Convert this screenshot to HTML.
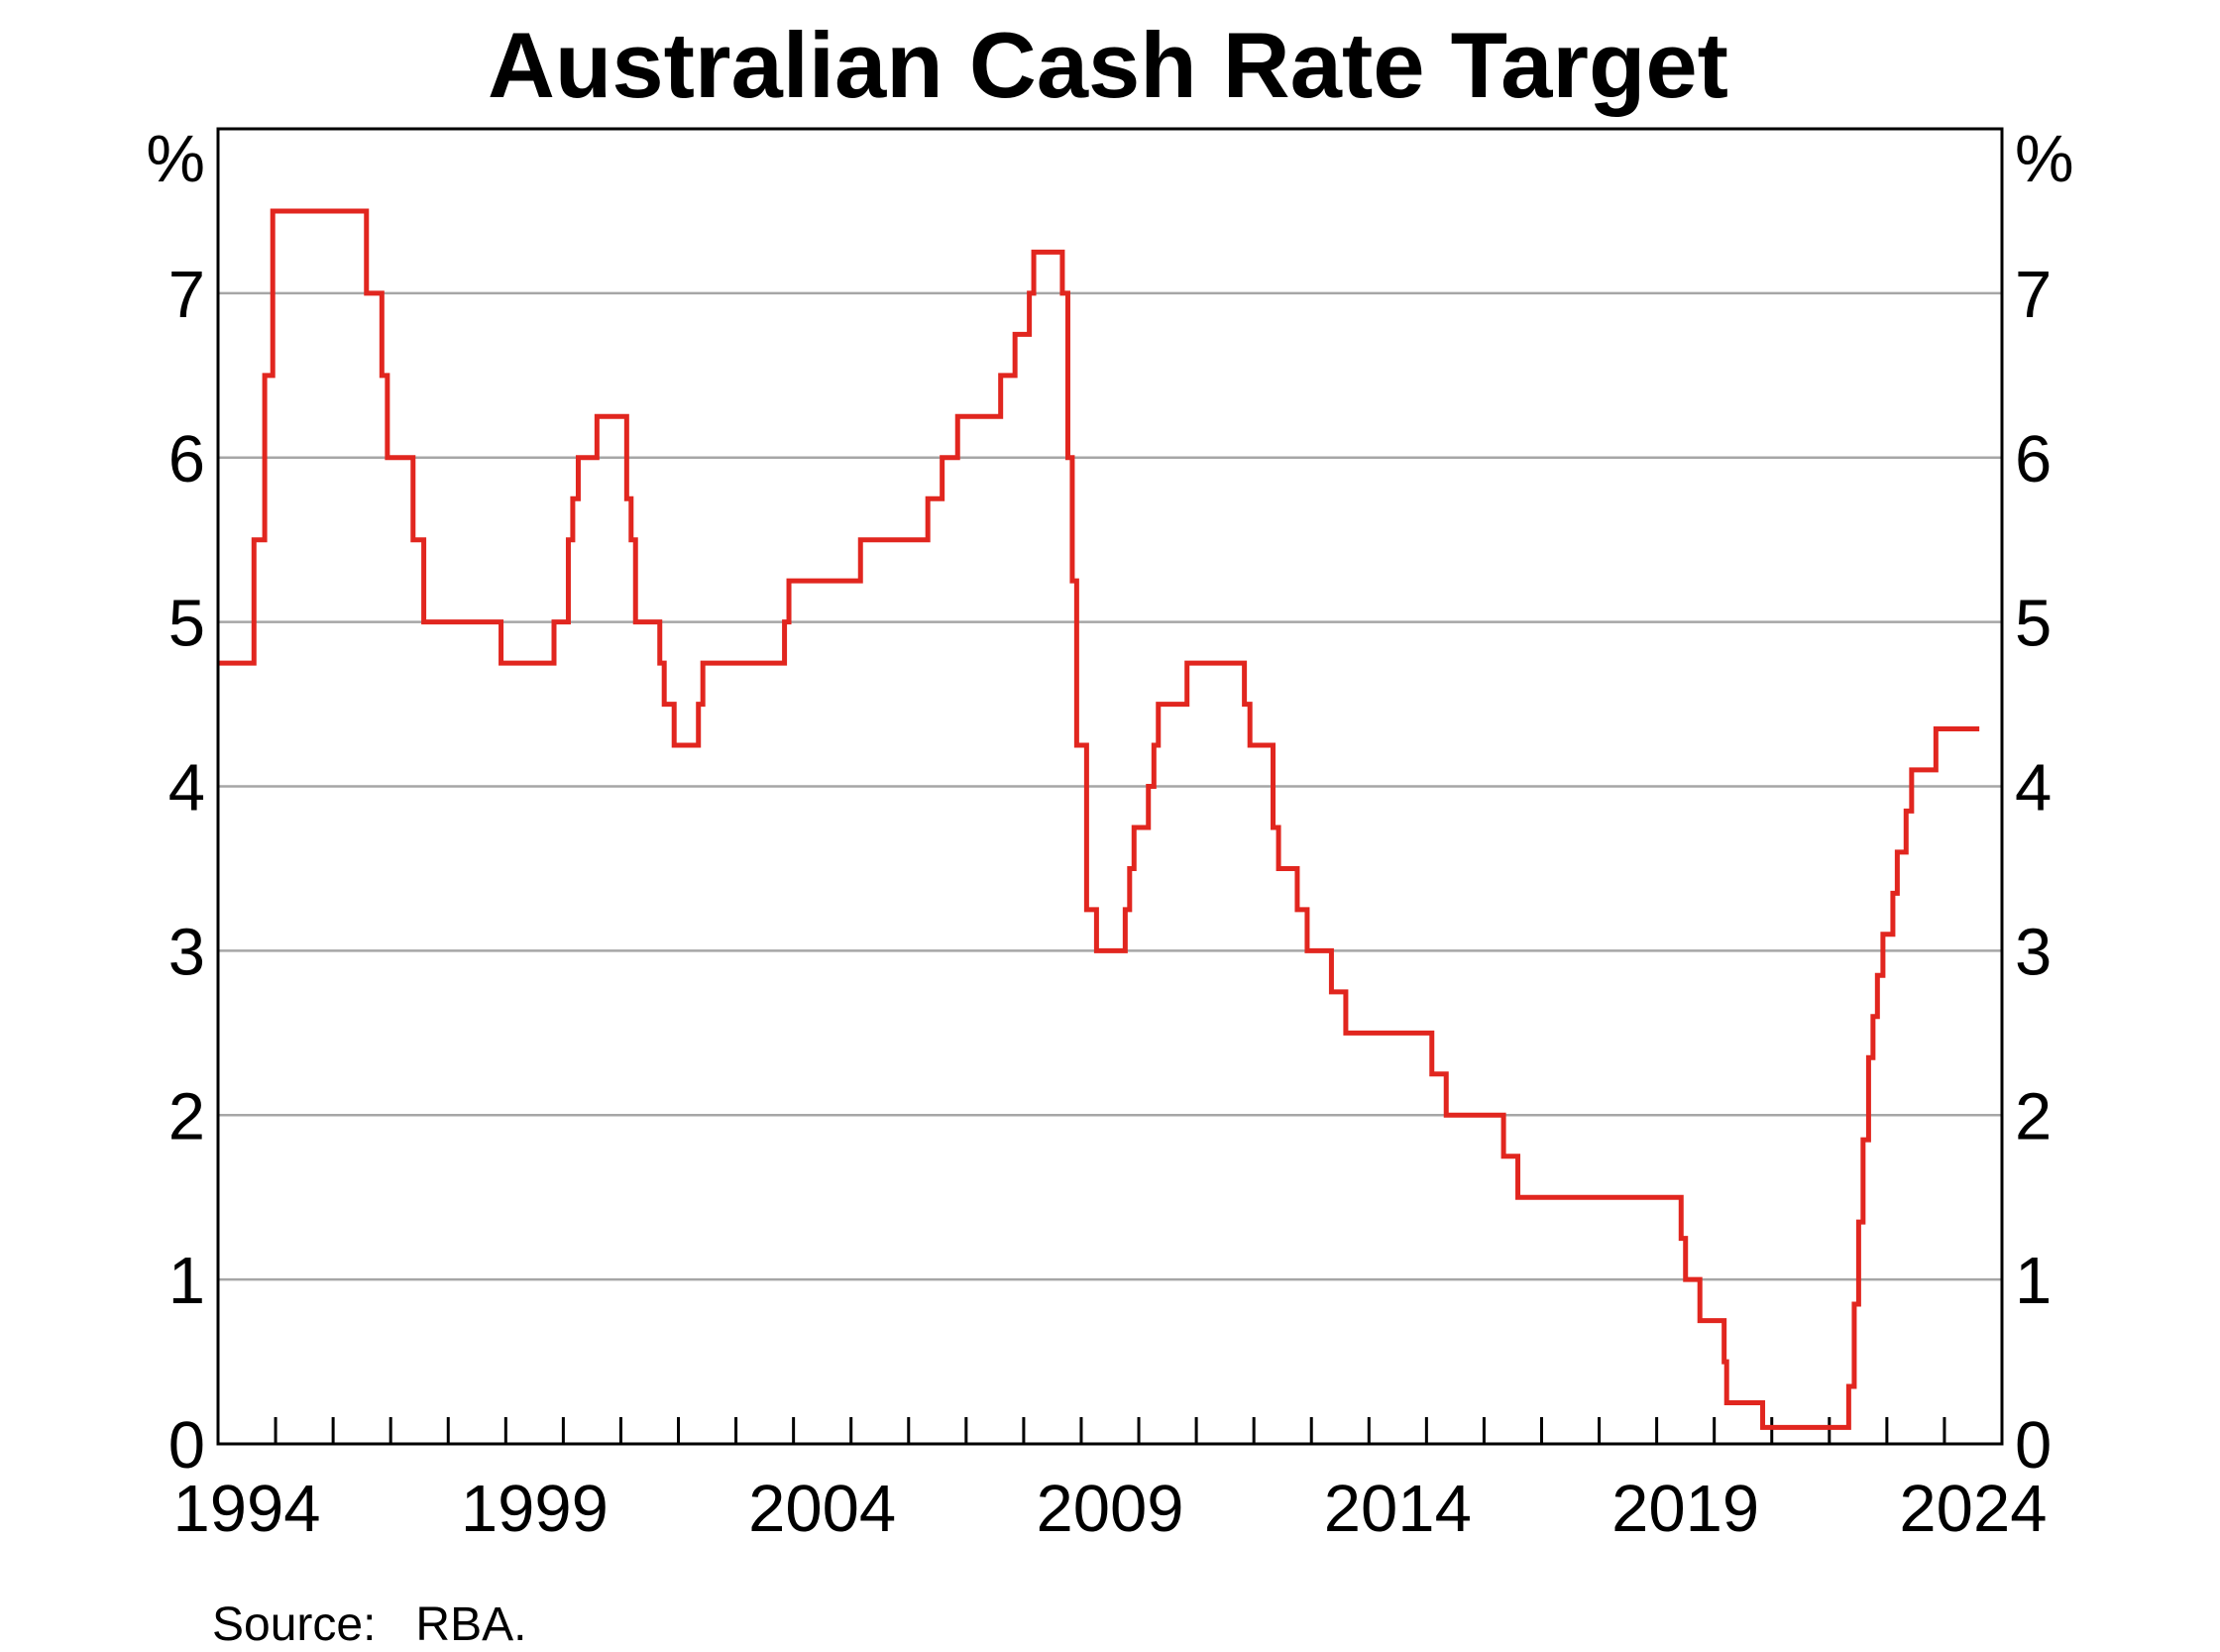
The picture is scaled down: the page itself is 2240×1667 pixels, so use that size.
<!DOCTYPE html>
<html><head><meta charset="utf-8"><style>
html,body{margin:0;padding:0;background:#fff}
svg{display:block;font-family:"Liberation Sans",Arial,sans-serif}
</style></head><body>
<svg id="chart" width="2240" height="1667" viewBox="0 0 2240 1667">
<text x="1118" y="98" font-size="94" font-weight="bold" text-anchor="middle">Australian Cash Rate Target</text>
<g id="grid"></g>
<g id="ticks"></g>
<g id="labels"></g>
<path id="series" fill="none" stroke="#e1261f" stroke-width="5" stroke-linejoin="miter"></path>
<rect x="220" y="130" width="1800" height="1327" fill="none" stroke="#000" stroke-width="3"></rect>
<text x="207" y="183" font-size="67" text-anchor="end">%</text>
<text x="2033" y="183" font-size="67">%</text>
<text x="214" y="1655" font-size="48" style="white-space:pre">Source:   RBA.</text>
</svg>
<script>
const changeDates = ["1994-01-01","1994-08-17","1994-10-24","1994-12-14","1996-07-31","1996-11-06","1996-12-11","1997-05-23","1997-07-30","1998-12-02","1999-11-03","2000-02-02","2000-03-01","2000-04-05","2000-08-02","2001-02-07","2001-03-07","2001-04-04","2001-09-05","2001-10-03","2001-12-05","2002-05-08","2002-06-05","2003-11-05","2003-12-03","2005-03-02","2006-05-03","2006-08-02","2006-11-08","2007-08-08","2007-11-07","2008-02-06","2008-03-05","2008-09-03","2008-10-08","2008-11-05","2008-12-03","2009-02-04","2009-04-08","2009-10-07","2009-11-04","2009-12-02","2010-03-03","2010-04-07","2010-05-05","2010-11-03","2011-11-02","2011-12-07","2012-05-02","2012-06-06","2012-10-03","2012-12-05","2013-05-08","2013-08-07","2015-02-04","2015-05-06","2016-05-04","2016-08-03","2019-06-05","2019-07-03","2019-10-02","2020-03-04","2020-03-20","2020-11-04","2022-05-04","2022-06-08","2022-07-06","2022-08-03","2022-09-07","2022-10-05","2022-11-02","2022-12-07","2023-02-08","2023-03-08","2023-05-03","2023-06-07","2023-11-08"];
const rates = [4.75,5.5,6.5,7.5,7.0,6.5,6.0,5.5,5.0,4.75,5.0,5.5,5.75,6.0,6.25,5.75,5.5,5.0,4.75,4.5,4.25,4.5,4.75,5.0,5.25,5.5,5.75,6.0,6.25,6.5,6.75,7.0,7.25,7.0,6.0,5.25,4.25,3.25,3.0,3.25,3.5,3.75,4.0,4.25,4.5,4.75,4.5,4.25,3.75,3.5,3.25,3.0,2.75,2.5,2.25,2.0,1.75,1.5,1.25,1.0,0.75,0.5,0.25,0.1,0.35,0.85,1.35,1.85,2.35,2.6,2.85,3.1,3.35,3.6,3.85,4.1,4.35];
const endDate = "2024-08-10";
const yTicks = [0,1,2,3,4,5,6,7];
const xLabelYears = [1994,1999,2004,2009,2014,2019,2024];

const L=220,R=2020,T=130,B=1457, X0=1994, X1=2025, Y0=0, Y1=8;
const NS="http://www.w3.org/2000/svg";
function dec(s){const p=s.split("-").map(Number);const d0=Date.UTC(p[0],0,1),d1=Date.UTC(p[0]+1,0,1);return p[0]+(Date.UTC(p[0],p[1]-1,p[2])-d0)/(d1-d0);}
function xs(v){return L+(v-X0)/(X1-X0)*(R-L);}
function ys(v){return B-(v-Y0)/(Y1-Y0)*(B-T);}
function mk(tag,attrs,parent){const e=document.createElementNS(NS,tag);for(const k in attrs)e.setAttribute(k,attrs[k]);document.getElementById(parent).appendChild(e);return e;}

yTicks.forEach(v=>{
  if(v>0){
    const g=mk("line",{x1:L,x2:R,y1:ys(v),y2:ys(v),stroke:"#a6a6a6","stroke-width":2.5},"grid");
    
    
  }
  const a=mk("text",{x:207,y:ys(v)+24,"font-size":67,"text-anchor":"end"},"labels");
  a.textContent=v;
  
  
  const b=mk("text",{x:2033,y:ys(v)+24,"font-size":67},"labels");
  b.textContent=v;
  
  
});
for(let y=X0+1;y<X1;y++){
  const t=mk("line",{x1:xs(y),x2:xs(y),y1:B,y2:B-27,stroke:"#000","stroke-width":3},"ticks");
  
  
}
xLabelYears.forEach(y=>{
  const t=mk("text",{x:xs(y+0.5),y:1545,"font-size":67,"text-anchor":"middle"},"labels");
  t.textContent=y;
  
  
});
let d="";
for(let i=0;i<rates.length;i++){
  const x=xs(dec(changeDates[i])), y=ys(rates[i]);
  d+= (i===0? "M"+x+","+y : "L"+x+","+ys(rates[i-1])+"L"+x+","+y);
}
d+="L"+xs(dec(endDate))+","+ys(rates[rates.length-1]);
document.getElementById("series").setAttribute("d",d);
</script>
</body></html>
